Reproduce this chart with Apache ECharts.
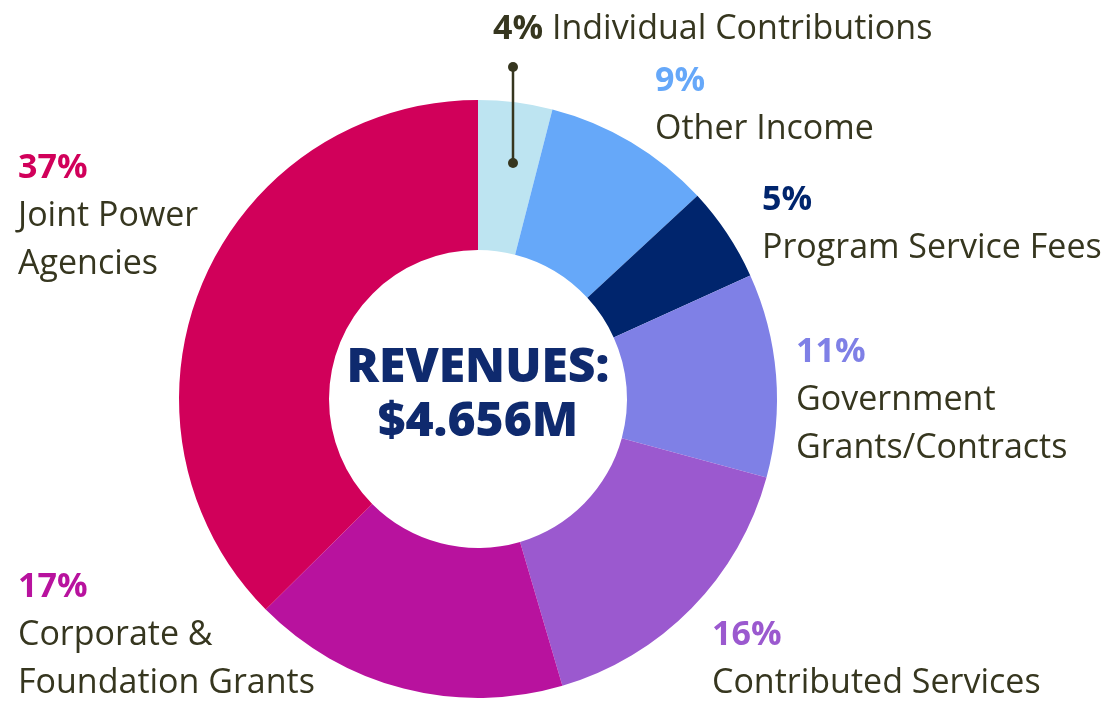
<!DOCTYPE html>
<html>
<head>
<meta charset="utf-8">
<script src="https://cdn.jsdelivr.net/npm/echarts@6/dist/echarts.min.js"></script>
<style>
  html, body { margin: 0; padding: 0; background: #fff; }
  #chart { width: 1120px; height: 702px; }
</style>
</head>
<body>
<div id="chart"></div>
<script>
// 收入构成（顺时针，从12点方向开始）
const categories = [
  "Individual Contributions",
  "Other Income",
  "Program Service Fees",
  "Government\nGrants/Contracts",
  "Contributed Services",
  "Corporate &\nFoundation Grants",
  "Joint Power\nAgencies",
];
const shares = [4.0, 9.1, 5.1, 11.0, 16.2, 17.1, 37.4];
const sliceColors = ["#bde4f1", "#66a8f9", "#00256d", "#7f80e6", "#9b59cf", "#b8129e", "#d1005a"];
const pctColors = ["#36361f", "#66a8f9", "#00256d", "#7f80e6", "#9b59cf", "#b8129e", "#d1005a"];
const centerTitle = "REVENUES:\n$4.656M";

// 标签位置（左对齐，垂直居中）
const labelPos = [
  [493, 29], [655, 105], [762, 224], [796, 400], [712, 659], [18, 635], [18, 216],
];

const chart = echarts.init(document.getElementById("chart"));

const rich = { name: { fontSize: 34, color: "#36361f", lineHeight: 48, fontFamily: "Open Sans" } };
pctColors.forEach((c, i) => {
  rich["p" + i] = { fontSize: 34, fontWeight: "bold", color: c, lineHeight: 48, fontFamily: "Open Sans" };
});

const option = {
  animation: false,
  series: [
    {
      type: "pie",
      center: [478, 399],
      radius: [149, 299],
      startAngle: 90,
      clockwise: true,
      silent: true,
      z: 1,
      data: categories.map((name, i) => ({
        name: name,
        value: shares[i],
        itemStyle: { color: sliceColors[i] },
      })),
      label: {
        show: true,
        overflow: "none",
        formatter: (p) => {
          const pct = "{p" + p.dataIndex + "|" + Math.round(p.value) + "%}";
          const lines = p.name.split("\n").map((l) => "{name|" + l + "}");
          if (p.dataIndex === 0) return pct + "{name| " + p.name + "}";
          return pct + "\n" + lines.join("\n");
        },
        rich: rich,
      },
      labelLine: { show: false },
      labelLayout: (params) => ({
        x: labelPos[params.dataIndex][0],
        y: labelPos[params.dataIndex][1],
        align: "left",
        verticalAlign: "middle",
      }),
    },
  ],
  graphic: [
    {
      type: "text",
      x: 478,
      y: 395,
      z: 10,
      style: {
        text: centerTitle,
        fontSize: 48,
        fontWeight: 800,
        fontFamily: "Open Sans",
        fill: "#0f2a6e",
        align: "center",
        verticalAlign: "middle",
        lineHeight: 54,
      },
    },
    // 个人捐款的引线
    { type: "line", z: 10, shape: { x1: 513, y1: 67, x2: 513, y2: 163 }, style: { stroke: "#36361f", lineWidth: 2.5 } },
    { type: "circle", z: 10, shape: { cx: 513, cy: 67, r: 5 }, style: { fill: "#36361f" } },
    { type: "circle", z: 10, shape: { cx: 513, cy: 163, r: 5 }, style: { fill: "#36361f" } },
  ],
};

chart.setOption(option);
</script>
</body>
</html>
